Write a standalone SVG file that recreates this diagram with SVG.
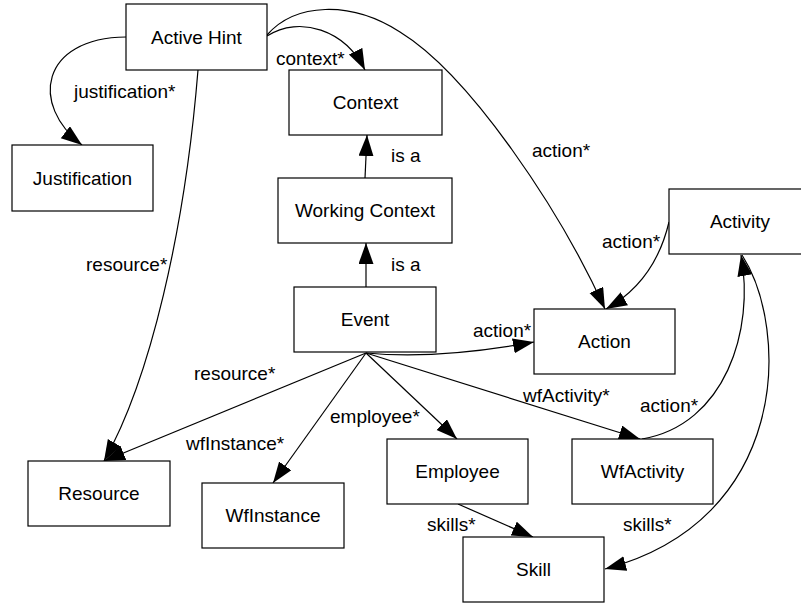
<svg xmlns="http://www.w3.org/2000/svg" width="801" height="604" viewBox="0 0 801 604">
<defs>
<style>
.n rect{fill:#fff;stroke:#000;stroke-width:1.2}
.n text{font-family:"Liberation Sans",Arial,sans-serif;font-size:19px;text-anchor:middle;fill:#000}
.e path{fill:none;stroke:#000;stroke-width:1.2;marker-end:url(#arr)}
.l{font-family:"Liberation Sans",Arial,sans-serif;font-size:19px;fill:#000}
</style>
<marker id="arr" markerUnits="userSpaceOnUse" markerWidth="22" markerHeight="16" refX="21" refY="7.5" orient="auto"><path d="M0,0 L21,7.5 L0,15 z" fill="#000"/></marker>
</defs>
<rect width="801" height="604" fill="#fff"/>
<g id="edges" class="e">
<path d="M126,37 C40,38 30,105 82,145"/>
<path d="M267,36 C300,15 345,30 365,70"/>
<path d="M267,35 C295,3 350,0 400,32 C470,75 560,210 605,309"/>
<path d="M365,178 L367,135"/>
<path d="M366,287 L366,243"/>
<path d="M366,353 C420,358 480,352 534,342"/>
<path d="M366,353 L104,461"/>
<path d="M198,70 C185,230 150,380 104,461"/>
<path d="M366,353 L273,483"/>
<path d="M366,353 L457,439"/>
<path d="M366,353 L640,439"/>
<path d="M642,439 C725,425 755,330 741,255"/>
<path d="M669,222 C660,260 640,290 606,309"/>
<path d="M458,504 L533,537"/>
<path d="M742,255 C790,330 790,520 605,569"/>
</g>
<g id="labels">
<text class="l" x="74" y="98">justification*</text>
<text class="l" x="276" y="65">context*</text>
<text class="l" x="532" y="157">action*</text>
<text class="l" x="391" y="162">is a</text>
<text class="l" x="391" y="271">is a</text>
<text class="l" x="86" y="271">resource*</text>
<text class="l" x="602" y="248">action*</text>
<text class="l" x="473" y="337">action*</text>
<text class="l" x="194" y="380">resource*</text>
<text class="l" x="523" y="402">wfActivity*</text>
<text class="l" x="640" y="412">action*</text>
<text class="l" x="330" y="423">employee*</text>
<text class="l" x="186" y="450">wfInstance*</text>
<text class="l" x="427" y="531">skills*</text>
<text class="l" x="623" y="531">skills*</text>
</g>
<g id="n-activehint" class="n"><rect x="126" y="4" width="141" height="66"/><text x="196.5" y="43.8">Active Hint</text></g>
<g id="n-justification" class="n"><rect x="12" y="145" width="141" height="66"/><text x="82.5" y="184.8">Justification</text></g>
<g id="n-context" class="n"><rect x="289" y="70" width="153" height="65"/><text x="365.5" y="109.3">Context</text></g>
<g id="n-workingcontext" class="n"><rect x="278" y="178" width="174" height="65"/><text x="365" y="217.3">Working Context</text></g>
<g id="n-event" class="n"><rect x="294" y="287" width="142" height="65"/><text x="365" y="326.3">Event</text></g>
<g id="n-action" class="n"><rect x="534" y="309" width="141" height="65"/><text x="604.5" y="348.3">Action</text></g>
<g id="n-activity" class="n"><rect x="669" y="189" width="142" height="65"/><text x="740" y="228.3">Activity</text></g>
<g id="n-resource" class="n"><rect x="28" y="461" width="142" height="65"/><text x="99" y="500.3">Resource</text></g>
<g id="n-wfinstance" class="n"><rect x="202" y="483" width="142" height="65"/><text x="273" y="522.3">WfInstance</text></g>
<g id="n-employee" class="n"><rect x="387" y="439" width="141" height="65"/><text x="457.5" y="478.3">Employee</text></g>
<g id="n-wfactivity" class="n"><rect x="572" y="439" width="141" height="65"/><text x="642.5" y="478.3">WfActivity</text></g>
<g id="n-skill" class="n"><rect x="463" y="537" width="141" height="65"/><text x="533.5" y="576.3">Skill</text></g>
</svg>
